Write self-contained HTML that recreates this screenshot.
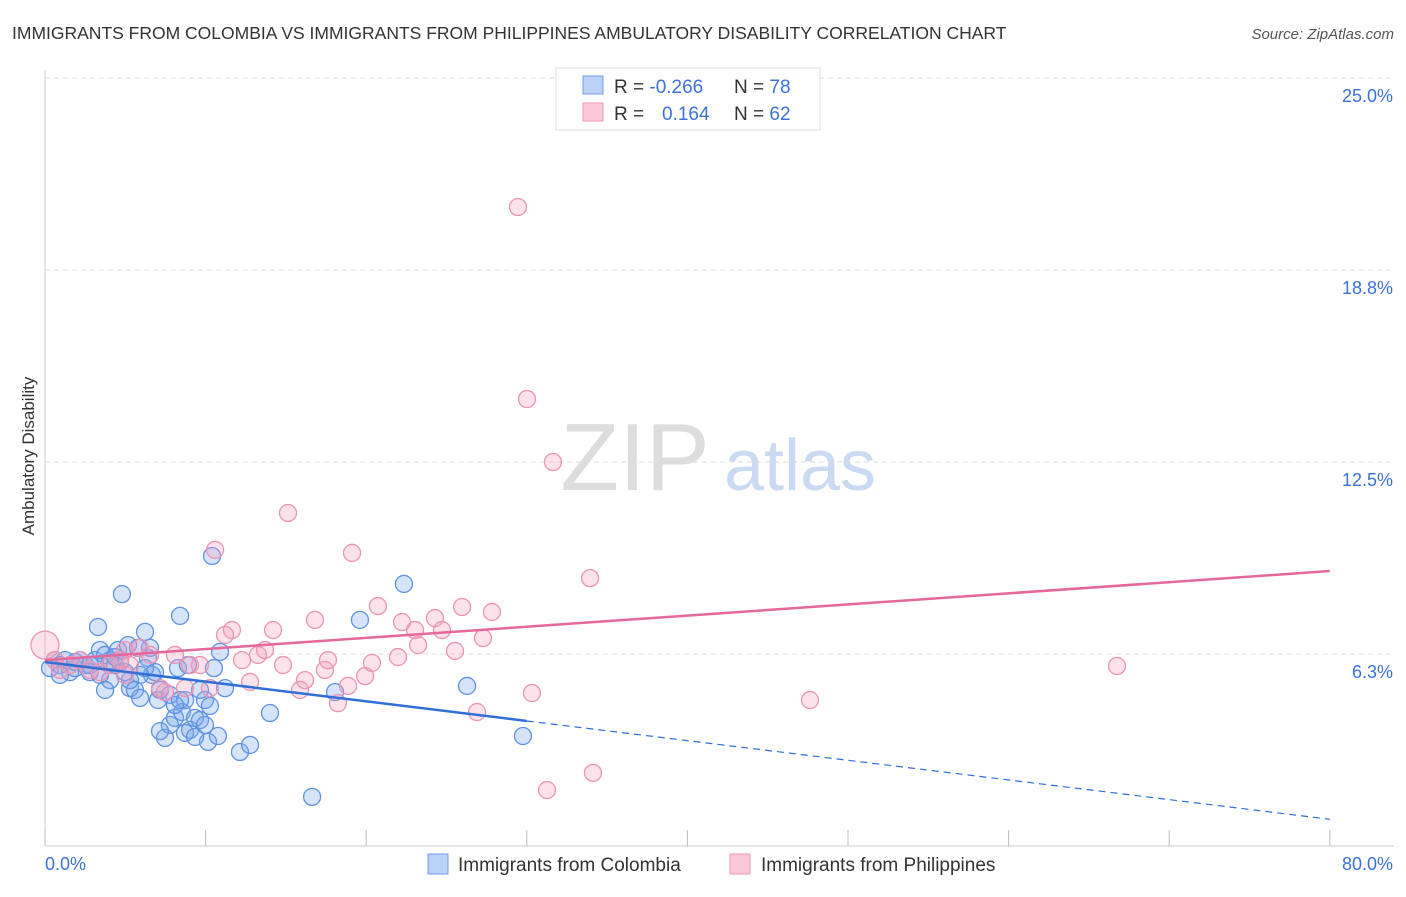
<!DOCTYPE html>
<html><head><meta charset="utf-8"><style>
body{margin:0;background:#fff;font-family:"Liberation Sans",sans-serif;}
svg text{font-family:"Liberation Sans",sans-serif;}
</style></head><body>
<svg id="chart" width="1406" height="892" viewBox="0 0 1406 892">
<text x="12" y="39" font-size="17.5" fill="#333">IMMIGRANTS FROM COLOMBIA VS IMMIGRANTS FROM PHILIPPINES AMBULATORY DISABILITY CORRELATION CHART</text>
<text x="1394" y="39" font-size="15" fill="#555" font-style="italic" text-anchor="end">Source: ZipAtlas.com</text>
<text transform="translate(34,456) rotate(-90)" font-size="17" fill="#333" text-anchor="middle">Ambulatory Disability</text>
<g>
<text x="635" y="490" font-size="96" fill="#ddd" font-family="Liberation Serif" text-anchor="middle">ZIP</text>
<text x="800" y="490" font-size="72" fill="#c9daf2" text-anchor="middle">atlas</text>
</g>
<g id="grid"></g><g id="axes"></g><g id="pts"></g><g id="lines"></g>
<g>
<rect x="556" y="68" width="264" height="62" fill="#fff" stroke="#ddd"/>
<rect x="583" y="76" width="20" height="18" fill="#b9d2f5" stroke="#6f9fe6"/>
<rect x="583" y="103" width="20" height="18" fill="#fcc8d8" stroke="#ee9ab6"/>
<text x="614" y="93" font-size="19" fill="#333">R = <tspan fill="#3b72d9">-0.266</tspan></text>
<text x="734" y="93" font-size="19" fill="#333">N = <tspan fill="#3b72d9">78</tspan></text>
<text x="614" y="120" font-size="19" fill="#333">R = </text>
<text x="662" y="120" font-size="19" fill="#3b72d9">0.164</text>
<text x="734" y="120" font-size="19" fill="#333">N = <tspan fill="#3b72d9">62</tspan></text>
</g>
<g>
<rect x="428" y="854" width="20" height="20" fill="#b9d2f5" stroke="#6f9fe6"/>
<text x="458" y="871" font-size="19" fill="#333">Immigrants from Colombia</text>
<rect x="730" y="854" width="20" height="20" fill="#fcc8d8" stroke="#ee9ab6"/>
<text x="761" y="871" font-size="19" fill="#333">Immigrants from Philippines</text>
</g>
</svg>
<script>
const yTicks=[6.25,12.5,18.75,25];
const yTickLabels=["6.3%","12.5%","18.8%","25.0%"];
const xTicks=[0,10,20,30,40,50,60,70,80];
const colX=[.31,.62,.93,1.25,1.56,1.87,2.18,2.49,2.8,3.11,3.3,3.42,3.74,4.05,4.36,4.55,4.79,4.98,5.17,5.29,5.6,5.92,6.23,6.41,6.66,6.85,7.04,7.16,7.47,7.78,8.09,8.28,8.41,8.53,8.72,8.9,9.03,9.34,9.65,9.96,10.15,10.27,10.4,10.52,10.77,10.9,11.21,12.14,12.77,14.01,16.63,18.06,19.61,22.35,26.28,29.76,4.05,.93,1.87,2.8,3.42,4.36,4.67,5.92,6.54,9.65,7.78,7.16,8.72,9.34,9.96,8.09,8.41,5.29,5.79,6.23,3.74];
const colY=[5.79,6.05,5.89,6.05,5.66,5.79,6.05,5.89,5.66,6.05,7.13,6.38,6.22,6.05,5.89,6.38,8.2,5.66,6.54,5.14,5.08,4.82,6.97,6.12,5.57,5.66,4.75,5.08,3.52,3.94,4.17,5.79,7.49,4.36,4.75,5.89,3.78,4.17,4.1,4.75,3.39,4.56,9.44,5.79,3.58,6.32,5.14,3.06,3.29,4.33,1.6,5.01,7.36,8.53,5.21,3.58,5.4,5.57,5.99,5.89,5.57,6.15,5.99,5.57,6.45,5.08,4.92,3.74,3.68,3.55,3.94,4.59,4.75,5.4,6.45,5.79,5.08];
const phX=[0,.62,.93,1.56,2.18,2.8,3.42,4.05,4.67,4.98,5.29,5.92,6.54,7.16,7.47,8.09,8.72,9.03,9.65,10.27,10.59,11.21,11.64,12.27,12.77,13.26,13.7,14.2,14.82,15.13,15.88,16.19,16.81,17.43,17.62,18.24,18.87,19.12,19.93,20.36,20.73,21.98,22.23,23.04,23.23,24.28,24.72,25.53,25.97,26.9,27.27,27.83,29.45,30.01,30.32,31.26,31.63,33.94,34.12,47.63,66.75,4.98];
const phY=[6.54,6.05,5.73,5.89,6.05,5.73,5.66,5.89,6.05,6.38,5.89,6.45,6.22,5.14,5.01,6.22,5.14,5.89,5.89,5.14,9.64,6.87,7.03,6.05,5.34,6.22,6.38,7.03,5.89,10.84,5.08,5.4,7.36,5.73,6.05,4.65,5.21,9.54,5.53,5.96,7.81,6.15,7.29,7.03,6.54,7.42,7.03,6.35,7.78,4.36,6.77,7.62,20.8,14.55,4.98,1.82,12.5,8.72,2.38,4.75,5.86,5.57];
const colTrend=[5.99,-0.064], phTrend=[6.05,0.03625];
const X=v=>45+v*16.06, Y=v=>846-v*30.72;
const NS="http://www.w3.org/2000/svg";
function mk(p,t,a){const e=document.createElementNS(NS,t);for(const k in a)e.setAttribute(k,a[k]);p.appendChild(e);return e;}
const g=document.getElementById('grid'),ax=document.getElementById('axes'),pts=document.getElementById('pts'),ln=document.getElementById('lines');
yTicks.forEach((t,i)=>{
 const l=mk(g,'line',{x1:45,x2:1394,y1:Y(t),y2:Y(t),stroke:'#ddd','stroke-dasharray':'5,4'});
 
 
 const tx=mk(g,'text',{x:1393,y:Y(t)+24,'font-size':18,fill:'#3b72d9','text-anchor':'end'});
 tx.textContent=yTickLabels[i];
 
 
});
mk(ax,'line',{x1:45,x2:45,y1:70,y2:846,stroke:'#ccc'});
mk(ax,'line',{x1:45,x2:1394,y1:846,y2:846,stroke:'#ccc'});
xTicks.forEach(t=>{const l=mk(ax,'line',{x1:X(t),x2:X(t),y1:830,y2:846,stroke:'#bbb'});
 
 });
let a=mk(ax,'text',{x:45,y:870,'font-size':18,fill:'#3b72d9'});a.textContent='0.0%';


a=mk(ax,'text',{x:1393,y:870,'font-size':18,fill:'#3b72d9','text-anchor':'end'});a.textContent='80.0%';


colX.forEach((v,i)=>{const c=mk(pts,'circle',{cx:X(v),cy:Y(colY[i]),r:8.5,fill:'rgba(120,165,235,0.3)',stroke:'#5f93e2','stroke-width':1.3});
 
 });
phX.forEach((v,i)=>{const c=mk(pts,'circle',{cx:X(v),cy:Y(phY[i]),r:i==0?14:8.5,fill:'rgba(245,160,190,0.3)',stroke:'#ec94b4','stroke-width':1.3});
 
 });
const cy=x=>colTrend[0]+colTrend[1]*x, py=x=>phTrend[0]+phTrend[1]*x;
let t=mk(ln,'line',{x1:X(0),y1:Y(cy(0)),x2:X(30),y2:Y(cy(30)),stroke:'#2f6fd6','stroke-width':2.5});


t=mk(ln,'line',{x1:X(30),y1:Y(cy(30)),x2:X(80),y2:Y(cy(80)),stroke:'#2f6fd6','stroke-width':1.2,'stroke-dasharray':'7,5'});


t=mk(ln,'line',{x1:X(0),y1:Y(py(0)),x2:X(80),y2:Y(py(80)),stroke:'#e5689a','stroke-width':2.5});


</script>
</body></html>
